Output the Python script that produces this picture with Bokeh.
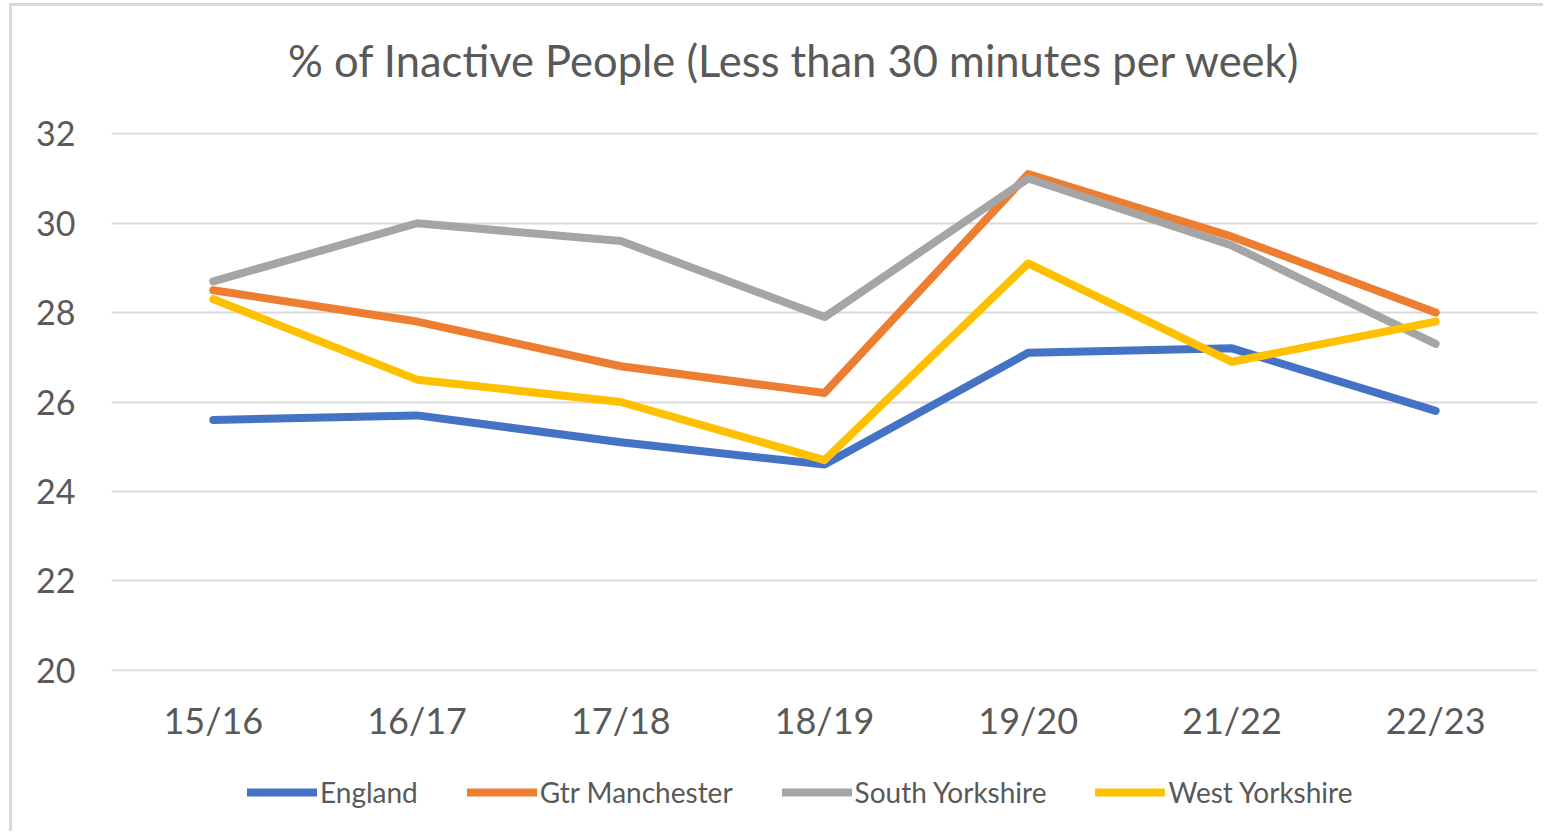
from bokeh.plotting import figure
from bokeh.layouts import column
from bokeh.models import Range1d, Legend, LegendItem, SingleIntervalTicker, Label
from bokeh.embed import file_html
from bokeh.resources import INLINE

years = ["15/16", "16/17", "17/18", "18/19", "19/20", "21/22", "22/23"]
england = [25.6, 25.7, 25.1, 24.6, 27.1, 27.2, 25.8]
gtr_manchester = [28.5, 27.8, 26.8, 26.2, 31.1, 29.7, 28.0]
south_yorkshire = [28.7, 30.0, 29.6, 27.9, 31.0, 29.5, 27.3]
west_yorkshire = [28.3, 26.5, 26.0, 24.7, 29.1, 26.9, 27.8]

series_names = ["England", "Gtr Manchester", "South Yorkshire", "West Yorkshire"]
series_values = [england, gtr_manchester, south_yorkshire, west_yorkshire]
colors = ["#4472C4", "#ED7D31", "#A5A5A5", "#FFC000"]
title_text = "% of Inactive People (Less than 30 minutes per week)"

FONT = "Lato"
TXT = "#595959"
LW = 8
W = 1531


def strip(height):
    f = figure(x_range=years, y_range=Range1d(0, 1),
               frame_width=W, frame_height=height,
               output_backend="svg", toolbar_location=None,
               x_axis_location=None, y_axis_location=None, min_border=0)
    f.outline_line_color = None
    f.xgrid.grid_line_color = None
    f.ygrid.grid_line_color = None
    return f


# title strip
head = strip(106)
head.add_layout(Label(x=683, y=53, x_units="screen", y_units="screen",
                      text=title_text, text_align="center",
                      text_baseline="middle", text_font=FONT,
                      text_font_size="43.5px", text_color=TXT))

# main chart
p = figure(x_range=years, y_range=Range1d(19.97, 32.03),
           frame_width=1426, frame_height=539,
           output_backend="svg", toolbar_location=None,
           min_border_left=99, min_border_right=6, min_border_top=20,
           min_border_bottom=80)
p.outline_line_color = None
p.xgrid.grid_line_color = None
p.ygrid.grid_line_color = "#d9d9d9"
p.ygrid.grid_line_width = 2
p.yaxis.ticker = SingleIntervalTicker(interval=2)

for ax in (p.xaxis[0], p.yaxis[0]):
    ax.axis_line_color = None
    ax.major_tick_line_color = None
    ax.minor_tick_line_color = None
    ax.major_label_text_font = FONT
    ax.major_label_text_color = TXT
p.yaxis.major_label_text_font_size = "34px"
p.xaxis.major_label_text_font_size = "36px"
p.yaxis.major_label_standoff = 30
p.xaxis.major_label_standoff = 20

for name, vals, c in zip(series_names, series_values, colors):
    p.line(years, vals, line_color=c, line_width=LW,
           line_cap="round", line_join="round")

# legend strip
lg = strip(80)
items = []
for name, vals, c in zip(series_names, series_values, colors):
    r = lg.line(years, vals, line_color=c, line_width=LW, line_cap="round")
    items.append(LegendItem(label=name, renderers=[r]))

legend = Legend(items=items, orientation="horizontal", location=(235, 22),
                glyph_width=70, glyph_height=20, label_standoff=3, spacing=49,
                label_text_font=FONT, label_text_font_size="28px",
                label_text_color=TXT, border_line_color=None,
                background_fill_alpha=0, padding=0, margin=0)
lg.add_layout(legend, "center")

layout = column(head, p, lg, spacing=0)
layout.styles = {"margin-left": "9px", "margin-top": "3px",
                 "border-left": "3px solid #d9d9d9",
                 "border-top": "3px solid #d9d9d9"}
open("out.html", "w").write(file_html(layout, INLINE))
